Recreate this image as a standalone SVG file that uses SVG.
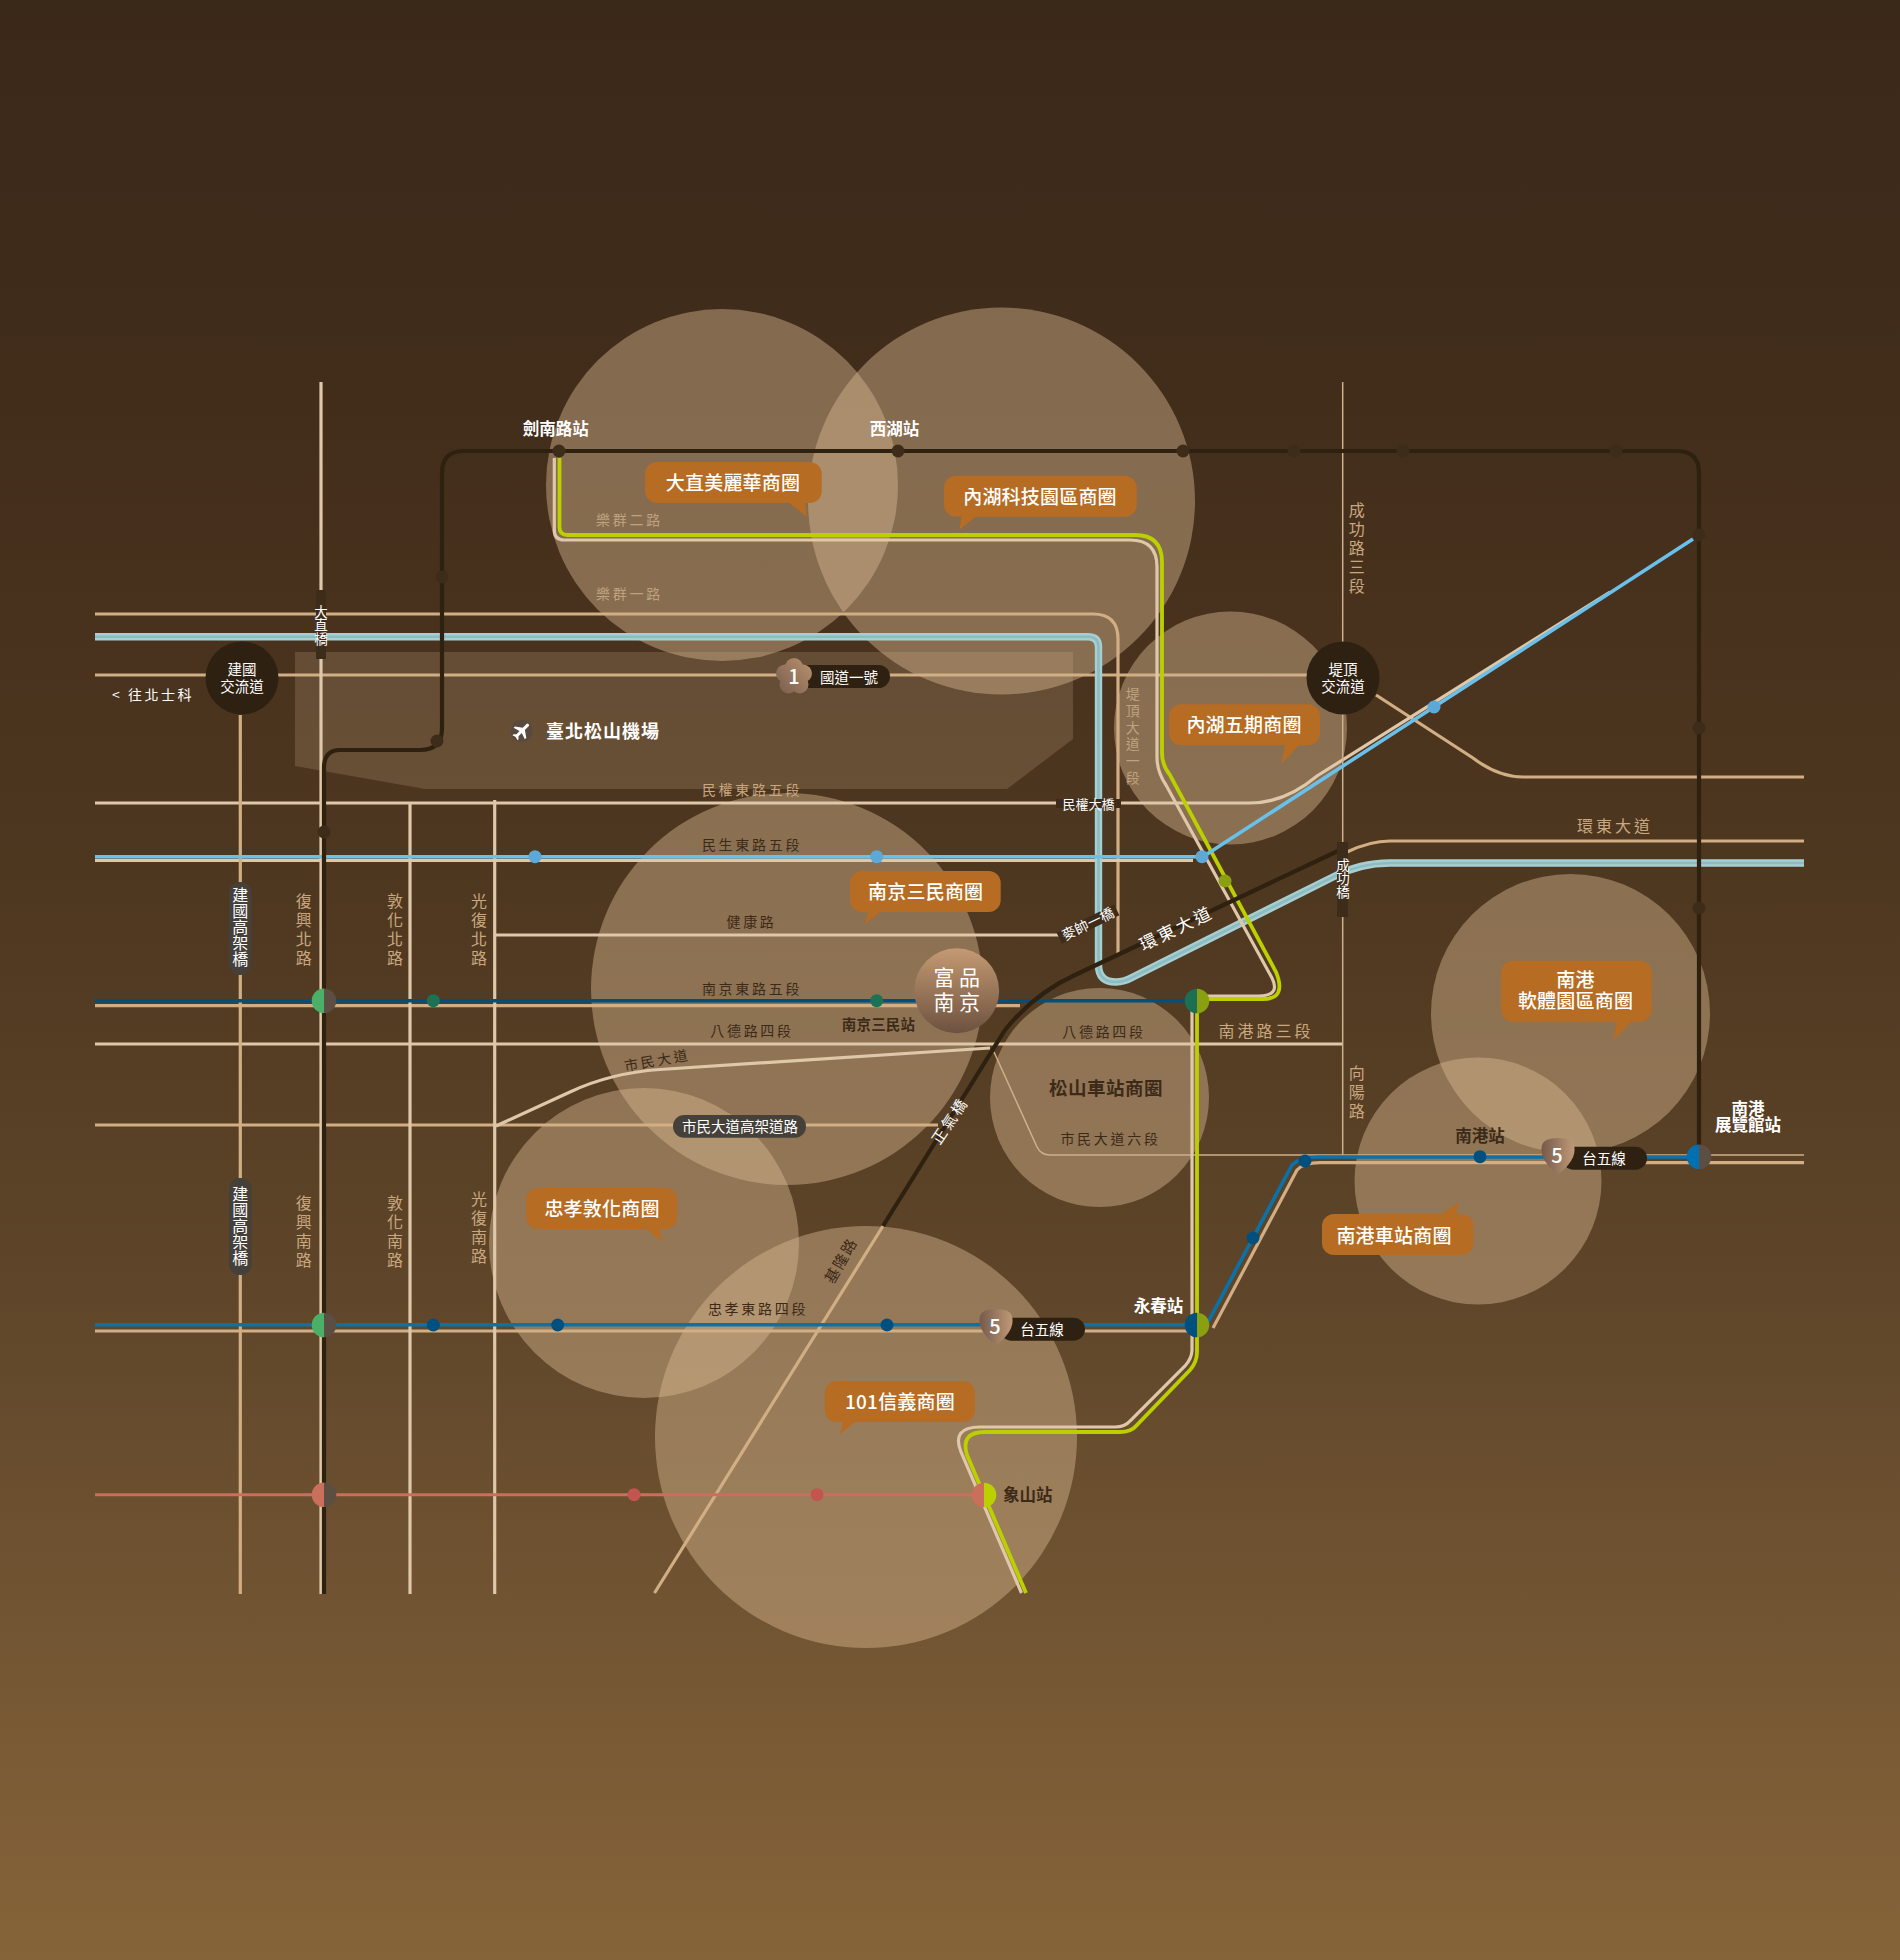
<svg xmlns="http://www.w3.org/2000/svg" width="1900" height="1960" viewBox="0 0 1900 1960">
<style>
text{font-family:"Noto Sans CJK TC","Noto Sans CJK SC","Noto Sans",sans-serif;text-anchor:middle;dominant-baseline:central}
.area{fill:#dcbc94;fill-opacity:.43}
.r{fill:none;stroke:#d1ae84;stroke-width:3.2}
.p{fill:none;stroke:#dfc8aa;stroke-width:3.2}
.thin{fill:none;stroke:#cdb08c;stroke-width:1.5}
.g{fill:none;stroke:#bcd000;stroke-width:3.8}
.mrt{fill:none;stroke:#2f2110;stroke-width:4.2}
.lb{fill:none;stroke:#69c0ea;stroke-width:3.6}
.db{fill:none;stroke:#00507f;stroke-width:3.6}
.mb{fill:none;stroke:#0a72aa;stroke-width:3.6}
.rd{fill:none;stroke:#c96f5c;stroke-width:3}
.riv{fill:none;stroke:#a6cfd3;stroke-width:7.4}
.riv2{fill:none;stroke:#8dbbc0;stroke-width:2.6}
.d-m{fill:#3e2c1a}.d-lb{fill:#5ca9d8}.d-db{fill:#00507f}.d-gn{fill:#1c7254}.d-rd{fill:#c2554f}.d-ol{fill:#8aa010}
.call{fill:#b66c22}
.ct{fill:#fff;font-size:19px;font-weight:500;letter-spacing:.2px}
.lt{fill:#3c2a18;font-size:14px;letter-spacing:2.7px}
.lg{fill:#c9a77f;font-size:14px;letter-spacing:2.7px}
.vt{fill:#c9a77f;font-size:16px;letter-spacing:3px;writing-mode:vertical-rl;text-orientation:upright}
.st{fill:#fff;font-size:16.5px;font-weight:700}
.sd{fill:#3c2a18;font-size:16.5px;font-weight:700}
.w14{fill:#fff;font-size:14.5px}
.vw{fill:#fff;font-size:13.5px;writing-mode:vertical-rl;text-orientation:upright}
.vp{fill:#fff;font-size:16px;letter-spacing:.2px;writing-mode:vertical-rl;text-orientation:upright}
.pill{fill:#2f2112}
.num{fill:#fff;font-size:20px;font-weight:500}
</style>
<defs>
<linearGradient id="bg" x1="0" y1="0" x2="0" y2="1">
<stop offset="0" stop-color="#3a2819"/><stop offset=".2" stop-color="#422d1b"/><stop offset=".46" stop-color="#4f3820"/><stop offset=".66" stop-color="#5f462a"/><stop offset=".82" stop-color="#715432"/><stop offset="1" stop-color="#866439"/>
</linearGradient>
<linearGradient id="fp" x1="0" y1="0" x2="0" y2="1"><stop offset="0" stop-color="#c49a72"/><stop offset="1" stop-color="#6d5240"/></linearGradient>
<linearGradient id="sh" x1="0" y1="0" x2="1" y2="0"><stop offset="0" stop-color="#75594a"/><stop offset="1" stop-color="#c09a78"/></linearGradient>
<linearGradient id="fl" gradientUnits="userSpaceOnUse" x1="778" y1="690" x2="810" y2="662"><stop offset="0" stop-color="#7c6050"/><stop offset="1" stop-color="#b68f6c"/></linearGradient>
<path id="shield" d="M1,7Q3,0 17,0Q31,0 33,7Q35,15 30,23Q24,32 17,36Q10,32 4,23Q-1,15 1,7Z" fill="url(#sh)"/>
</defs>
<rect width="1900" height="1960" fill="url(#bg)"/>
<polygon id="airport" points="295,652 1073,652 1073,739 1007,789 425,789 295,766" fill="#d8b890" fill-opacity=".2"/>
<g id="areas">
<circle class="area" cx="722" cy="485" r="176"/>
<circle class="area" cx="1001.500" cy="501" r="193.500"/>
<circle class="area" cx="1230.5" cy="728" r="116.5"/>
<circle class="area" cx="787" cy="989" r="196"/>
<circle class="area" cx="644" cy="1243" r="155"/>
<circle class="area" cx="1099.5" cy="1097.5" r="109.5"/>
<circle class="area" cx="1570.5" cy="1013.5" r="139.5"/>
<circle class="area" cx="1478" cy="1181" r="123.5"/>
<circle class="area" cx="866" cy="1437" r="211"/>
</g>
<g id="connectors">
<path class="r" d="M95,614H1093Q1118,614 1118,639V954"/>
<path class="r" d="M95,675H1312"/>
<path class="r" d="M1376,695L1473,758Q1498,777 1523,777H1804"/>
<path class="p" d="M95,803H1250Q1285,803 1317,776L1610,592"/>
<path class="p" d="M95,860.3H1193"/>
<path class="r" d="M95,1005.7H1020"/>
<path class="p" d="M95,1044H1343"/>
<path class="r" d="M95,1125H938"/>
<path class="p" d="M496,1126L570,1092Q610,1073 660,1069.500L990,1048"/>
<path class="p" d="M494.7,935H1060"/>
<path class="thin" d="M994,1052L1037,1147Q1041,1155 1050,1155H1804"/>
<path class="thin" d="M1342.7,382V1155"/>
<path class="r" d="M95,1331H1190"/>
<path class="r" d="M1213,1328L1297,1170Q1303,1162.7 1320,1162.7H1804"/>
<path class="r" d="M883,1226L654.5,1593"/>
<path class="r" d="M1347,852Q1370,841 1390,841H1804"/>
<path class="r" d="M240.3,715V1594"/>
<path class="p" d="M321,382V1594"/>
<path class="p" d="M410,803V1594"/>
<path class="p" d="M494.7,800V1594"/>
<path class="riv" d="M95,636.7H1088Q1098.5,636.7 1098.5,647V965Q1098.5,982 1116,982Q1124,982 1133,977L1333,877Q1360,863 1390,863H1804"/>
<path class="riv2" d="M95,636.7H1088Q1098.5,636.7 1098.5,647V965Q1098.5,982 1116,982Q1124,982 1133,977L1333,877Q1360,863 1390,863H1804"/>
<path class="p" d="M554.3,458V530Q554.3,540 564,540H1130Q1157,540 1157,567V757Q1157,772 1166,785L1272,978Q1281,996 1258,996H1200"/>
<path class="p" d="M1192,1001V1350Q1192,1358 1185,1366L1130,1421Q1125,1427 1115,1427H980Q951,1427 961,1452L1021.5,1593"/>
<path class="g" d="M559.5,458V527Q559.5,535 567.5,535H1135Q1162,535 1162,562V753Q1162,765 1170,775L1276,972Q1287,999 1263,999H1197V1352Q1197,1362 1190,1370L1136,1426Q1131,1432 1120,1432H985Q960,1432 967,1455L1026,1593"/>
<path class="lb" d="M95,856.7H1203L1693,539"/>
<path class="db" d="M95,1000.7H1197"/>
<path class="mb" d="M95,1324.7H1197"/>
<path class="mb" d="M1208,1322L1292,1165Q1300,1157 1318,1157H1699"/>
<path class="rd" d="M95,1494.7H984"/>
<path class="mrt" d="M1699,1156V473Q1699,451 1677,451H464Q442,451 442,473V728Q442,750 420,750H340Q324,750 324,768V1594"/>
<path class="mrt" d="M1340,850L1075,975Q1035,993 1005,1030L883,1226"/>
</g>
<g id="stops">
<circle class="d-m" cx="559" cy="451" r="6.5"/><circle class="d-m" cx="898" cy="451" r="6.5"/><circle class="d-m" cx="1183" cy="451" r="6.5"/><circle class="d-m" cx="1294" cy="451" r="6.5"/><circle class="d-m" cx="1403" cy="451" r="6.5"/><circle class="d-m" cx="1616" cy="451" r="6.5"/><circle class="d-m" cx="442" cy="577" r="6.5"/><circle class="d-m" cx="437" cy="741" r="6.5"/><circle class="d-m" cx="324" cy="832" r="6.5"/><circle class="d-m" cx="1699" cy="535" r="6.5"/><circle class="d-m" cx="1699" cy="728" r="6.5"/><circle class="d-m" cx="1699" cy="908" r="6.5"/>
<circle class="d-lb" cx="535" cy="856.7" r="6.5"/><circle class="d-lb" cx="876.7" cy="856.7" r="6.5"/><circle class="d-lb" cx="1202" cy="856.7" r="6.5"/><circle class="d-lb" cx="1434" cy="707" r="6.5"/>
<circle class="d-ol" cx="1225" cy="881" r="6.5"/>
<circle class="d-gn" cx="433.3" cy="1000.7" r="6.5"/><circle class="d-gn" cx="876.7" cy="1000.7" r="6.5"/>
<circle class="d-db" cx="433.3" cy="1325" r="6.5"/><circle class="d-db" cx="557.7" cy="1325" r="6.5"/><circle class="d-db" cx="887" cy="1325" r="6.5"/><circle class="d-db" cx="1253" cy="1238" r="6.5"/><circle class="d-db" cx="1305" cy="1161" r="6.5"/><circle class="d-db" cx="1480" cy="1156.7" r="6.5"/>
<circle class="d-rd" cx="634" cy="1494.7" r="6.5"/><circle class="d-rd" cx="817" cy="1494.7" r="6.5"/>
<g transform="translate(324,1000.7)"><path d="M0,-12.3A12.3,12.3 0 0 0 0,12.3Z" fill="#4caf68"/><path d="M0,-12.3A12.3,12.3 0 0 1 0,12.3Z" fill="#5c4e42"/></g>
<g transform="translate(324,1325)"><path d="M0,-12.3A12.3,12.3 0 0 0 0,12.3Z" fill="#4caf68"/><path d="M0,-12.3A12.3,12.3 0 0 1 0,12.3Z" fill="#5c4e42"/></g>
<g transform="translate(324,1494.7)"><path d="M0,-12.3A12.3,12.3 0 0 0 0,12.3Z" fill="#c96f5c"/><path d="M0,-12.3A12.3,12.3 0 0 1 0,12.3Z" fill="#5c4e42"/></g>
<g transform="translate(1197,1001)"><path d="M0,-12.3A12.3,12.3 0 0 0 0,12.3Z" fill="#1c6f53"/><path d="M0,-12.3A12.3,12.3 0 0 1 0,12.3Z" fill="#8aa010"/></g>
<g transform="translate(1197,1325)"><path d="M0,-12.3A12.3,12.3 0 0 0 0,12.3Z" fill="#00507f"/><path d="M0,-12.3A12.3,12.3 0 0 1 0,12.3Z" fill="#8aa010"/></g>
<g transform="translate(984,1495)"><path d="M0,-12.3A12.3,12.3 0 0 0 0,12.3Z" fill="#c96f5c"/><path d="M0,-12.3A12.3,12.3 0 0 1 0,12.3Z" fill="#bcd000"/></g>
<g transform="translate(1699,1156.7)"><path d="M0,-12.3A12.3,12.3 0 0 0 0,12.3Z" fill="#0070b0"/><path d="M0,-12.3A12.3,12.3 0 0 1 0,12.3Z" fill="#5c4e42"/></g>
</g>
<g id="node-jianguo"><circle cx="242" cy="678" r="36.5" fill="#2f2112"/><text class="w14"><tspan x="242" y="667.500">建國</tspan><tspan x="242" y="684.500">交流道</tspan></text></g>
<g id="node-diding"><circle cx="1343" cy="678" r="36.5" fill="#2f2112"/><text class="w14"><tspan x="1343" y="667.500">堤頂</tspan><tspan x="1343" y="684.500">交流道</tspan></text></g>
<g id="node-fupin"><circle cx="956.7" cy="990.7" r="42.5" fill="url(#fp)"/><text fill="#fff" font-size="21" letter-spacing="4.500"><tspan x="959" y="976">富品</tspan><tspan x="959" y="1001">南京</tspan></text></g>
<g id="bridge-dazhi"><rect x="316" y="590" width="10" height="69" fill="#3e2c1a"/><text class="vw" x="321" y="625">大直橋</text></g>
<g id="bridge-chenggong"><rect x="1337" y="842" width="11" height="75" fill="#3e2c1a"/><text class="vw" x="1343" y="878">成功橋</text></g>
<g id="bridge-minquan"><rect x="1056" y="799" width="65" height="9" fill="#3e2c1a"/><text x="1088.5" y="803" fill="#fff" font-size="13">民權大橋</text></g>
<g id="bridge-maishuai" transform="translate(1088,924) rotate(-26)"><rect x="-32" y="-6" width="64" height="12" fill="#3e2c1a"/><text y="-1" fill="#fff" font-size="14">麥帥一橋</text></g>
<g id="pill-jianguo1"><rect x="229" y="882" width="22.6" height="93" rx="11" fill="#45403a"/><text class="vp" x="240.3" y="927">建國高架橋</text></g>
<g id="pill-jianguo2"><rect x="229" y="1178" width="22.6" height="97" rx="11" fill="#45403a"/><text class="vp" x="240.3" y="1226">建國高架橋</text></g>
<g id="pill-shimin"><rect x="673" y="1115" width="133" height="22.7" rx="11.3" fill="#45403a"/><text class="w14" x="740" y="1125.500">市民大道高架道路</text></g>
<g id="shield-1"><rect class="pill" x="790" y="665" width="100" height="23" rx="11.5"/>
<g fill="url(#fl)"><circle cx="794" cy="667" r="9"/><circle cx="803" cy="673.500" r="9"/><circle cx="799.500" cy="684.500" r="9"/><circle cx="788.500" cy="684.500" r="9"/><circle cx="785" cy="673.500" r="9"/><circle cx="794" cy="676" r="9"/></g>
<text class="num" x="794" y="675">1</text><text class="w14" x="849" y="676">國道一號</text></g>
<g id="shield-5a"><rect class="pill" x="1000" y="1317.7" width="85" height="23" rx="11.5"/><use href="#shield" x="979" y="1309"/><text class="num" x="995" y="1325">5</text><text class="w14" x="1042" y="1328">台五線</text></g>
<g id="shield-5b"><rect class="pill" x="1562" y="1146.7" width="85" height="23" rx="11.5"/><use href="#shield" x="1541" y="1138"/><text class="num" x="1557" y="1154">5</text><text class="w14" x="1604" y="1157">台五線</text></g>
<g id="airport-label"><circle cx="521.7" cy="731" r="11" fill="#5a4a3c"/><path transform="translate(521.700,731) rotate(45)" d="M-1.500,-9Q0,-10.500 1.500,-9V-3L8,1.500V3.500L1.500,1.500V6L3.500,8V9.500L0,8.500L-3.500,9.500V8L-1.500,6V1.500L-8,3.500V1.500L-1.500,-3Z" fill="#fff"/><text x="603" y="730" fill="#fff" font-size="18" font-weight="700" letter-spacing="1">臺北松山機場</text></g>
<g id="callouts">
<g id="c-dazhi"><rect class="call" x="645" y="462" width="176.700" height="41" rx="12"/><polygon class="call" points="788,502 805,502 806.700,516.700"/><text class="ct" x="733" y="481">大直美麗華商圈</text></g>
<g id="c-neihu"><rect class="call" x="944" y="475.700" width="192.700" height="41" rx="12"/><polygon class="call" points="961.700,516 976.700,516 959.300,530"/><text class="ct" x="1040" y="495">內湖科技園區商圈</text></g>
<g id="c-neihu5"><rect class="call" x="1169" y="704.300" width="151" height="41" rx="12"/><polygon class="call" points="1285,744 1300,744 1281.700,764"/><text class="ct" x="1244" y="723">內湖五期商圈</text></g>
<g id="c-nanjing"><rect class="call" x="850" y="871" width="150.700" height="41" rx="12"/><polygon class="call" points="868,911 881.700,911 865,924"/><text class="ct" x="925.700" y="890.500">南京三民商圈</text></g>
<g id="c-software"><rect class="call" x="1501" y="960.700" width="150.700" height="61" rx="12"/><polygon class="call" points="1616.700,1021 1632.300,1021 1613.300,1040"/><text class="ct"><tspan x="1575.500" y="978">南港</tspan><tspan x="1575.500" y="999">軟體園區商圈</tspan></text></g>
<g id="c-zhongxiao"><rect class="call" x="526" y="1188" width="151.300" height="41" rx="12"/><polygon class="call" points="645,1228 660,1228 661.700,1241.700"/><text class="ct" x="602" y="1207.500">忠孝敦化商圈</text></g>
<g id="c-101"><rect class="call" x="824.800" y="1381" width="150.200" height="41" rx="12"/><polygon class="call" points="843,1421 856,1421 840,1434"/><text class="ct" x="900" y="1400.500">101信義商圈</text></g>
<g id="c-nangang"><rect class="call" x="1322" y="1214" width="151.500" height="41" rx="12"/><polygon class="call" points="1440.400,1215 1456,1215 1459,1201.700"/><text class="ct" x="1394" y="1234.500">南港車站商圈</text></g>
</g>
<g id="labels">
<text class="st" x="555.700" y="427.500">劍南路站</text>
<text class="st" x="894.500" y="427.500">西湖站</text>
<text class="st" x="1158.500" y="1305">永春站</text>
<text class="sd" x="1027.700" y="1493.500">象山站</text>
<text class="sd" x="1480" y="1134.500">南港站</text>
<text class="st"><tspan x="1748" y="1107.500">南港</tspan><tspan x="1748" y="1124">展覽館站</tspan></text>
<text x="153" y="693.500" fill="#fff" font-size="14" letter-spacing="2.500">&lt; 往北士科</text>
<text class="lg" x="629.500" y="518.500" style="fill:#bfa27e">樂群二路</text>
<text class="lg" x="629.500" y="592.500" style="fill:#bfa27e">樂群一路</text>
<text class="lg" x="752" y="789">民權東路五段</text>
<text class="lt" x="752" y="844">民生東路五段</text>
<text class="lt" x="751.500" y="921">健康路</text>
<text class="lt" x="752" y="987.500">南京東路五段</text>
<text class="lt" x="752" y="1030">八德路四段</text>
<text x="878.500" y="1023.500" fill="#3c2a18" font-size="14.500" font-weight="700" letter-spacing=".2">南京三民站</text>
<text class="lt" x="1104" y="1030.500">八德路四段</text>
<text x="1266" y="1029.500" fill="#c9a77f" font-size="16" letter-spacing="3">南港路三段</text>
<text x="1106" y="1087" fill="#3c2a18" font-size="18.500" font-weight="700" letter-spacing=".5">松山車站商圈</text>
<text class="lt" x="1110.500" y="1138">市民大道六段</text>
<text class="lt" x="758" y="1308">忠孝東路四段</text>
<text class="lt" transform="translate(657,1059.500) rotate(-10)">市民大道</text>
<text transform="translate(840,1260) rotate(-60)" fill="#3c2a18" font-size="15" letter-spacing="1.500">基隆路</text>
<text transform="translate(949,1120) rotate(-56)" fill="#fff" font-size="15" letter-spacing="2.500">正氣橋</text>
<text transform="translate(1176,927) rotate(-26)" fill="#fff" font-size="17" letter-spacing="3">環東大道</text>
<text x="1615" y="825" fill="#c9a77f" font-size="16" letter-spacing="3">環東大道</text>
<text class="vt" x="303.700" y="930.500">復興北路</text>
<text class="vt" x="395" y="930.500">敦化北路</text>
<text class="vt" x="479" y="930.500">光復北路</text>
<text class="vt" x="303.700" y="1232.500">復興南路</text>
<text class="vt" x="395" y="1232.500">敦化南路</text>
<text class="vt" x="479" y="1228.500">光復南路</text>
<text class="vt" x="1356.700" y="549.500">成功路三段</text>
<text class="vt" x="1356.700" y="1093.500">向陽路</text>
<text class="vt" x="1132.700" y="737" style="font-size:14px;letter-spacing:2.800px;fill:#bfa27e">堤頂大道一段</text>
</g>
</svg>
